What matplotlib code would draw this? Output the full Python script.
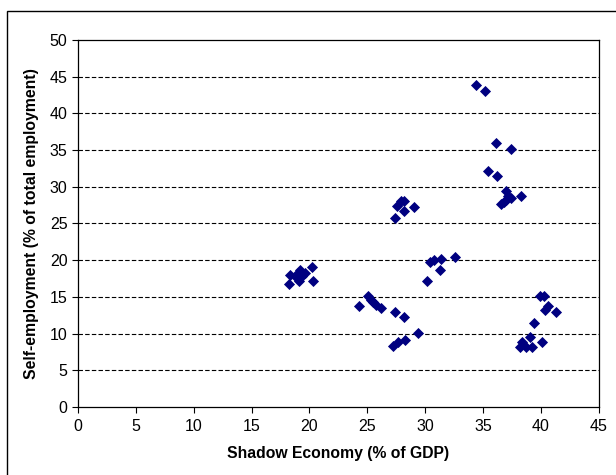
import matplotlib
matplotlib.use('Agg')
import matplotlib.pyplot as plt
from matplotlib.patches import Rectangle

plt.rcParams['font.family'] = ['Liberation Sans', 'DejaVu Sans']

# shadow economy (% of GDP) vs self-employment (% of total employment)
shadow = [18.2, 18.3, 18.9, 19.0, 19.1, 19.2, 19.4, 19.6, 20.2, 20.3,
          24.3, 25.1, 25.3, 25.5, 25.8, 26.2, 27.4, 28.2, 29.4, 27.2, 27.7, 28.3,
          27.4, 27.6, 27.9, 28.2, 28.2, 29.0,
          30.2, 30.4, 30.8, 31.3, 31.4, 32.6,
          34.4, 35.2, 35.4, 36.1, 36.2, 37.4, 36.6, 36.8, 37.0, 37.0, 37.2, 37.4, 38.3,
          38.2, 38.4, 38.7, 39.2, 39.1, 39.4, 40.1, 39.9, 40.3, 40.4, 40.6, 41.3]
selfemp = [16.8, 18.0, 17.6, 18.3, 17.1, 18.7, 17.9, 18.2, 19.1, 17.1,
           13.8, 15.1, 14.6, 14.3, 13.9, 13.5, 13.0, 12.3, 10.1, 8.3, 8.8, 9.1,
           25.8, 27.4, 28.0, 28.1, 26.7, 27.2,
           17.1, 19.7, 20.0, 18.7, 20.2, 20.5,
           43.9, 43.1, 32.2, 35.9, 31.5, 35.2, 27.7, 27.9, 29.4, 28.2, 28.7, 28.5, 28.7,
           8.2, 8.9, 8.2, 8.2, 9.6, 11.5, 8.9, 15.1, 15.1, 13.2, 13.8, 12.9]

xticks = list(range(0, 50, 5))
yticks = list(range(0, 55, 5))

fig = plt.figure(figsize=(6.16, 4.75), dpi=100)
ax = fig.add_axes([0.1266, 0.1432, 0.8452, 0.7726])

# outer chart frame (runs off the right and bottom edges)
fig.patches.append(Rectangle((7 / 616, -0.05), 1.1, 1 - 11 / 475 + 0.05, transform=fig.transFigure,
                             fill=False, edgecolor='black', linewidth=1.0))

for y in yticks[1:-1]:
    ax.axhline(y, color='black', linestyle=(0, (4, 2)), linewidth=0.8, zorder=1)

ax.scatter(shadow, selfemp, marker='D', s=32, color='#000080', zorder=3, linewidths=0)

ax.set_xlim(0, 45)
ax.set_ylim(0, 50)
ax.set_xticks(xticks)
ax.set_yticks(yticks)
ax.tick_params(labelsize=11.5, length=4, width=0.8, direction='out')
ax.tick_params(axis='x', pad=5)
ax.set_xlabel('Shadow Economy (% of GDP)', fontsize=11.3, fontweight='bold', labelpad=8)
ax.set_ylabel('Self-employment (% of total employment)', fontsize=11.3, fontweight='bold', labelpad=8)
for sp in ax.spines.values():
    sp.set_linewidth(0.9)

fig.savefig('out.png', dpi=100)
